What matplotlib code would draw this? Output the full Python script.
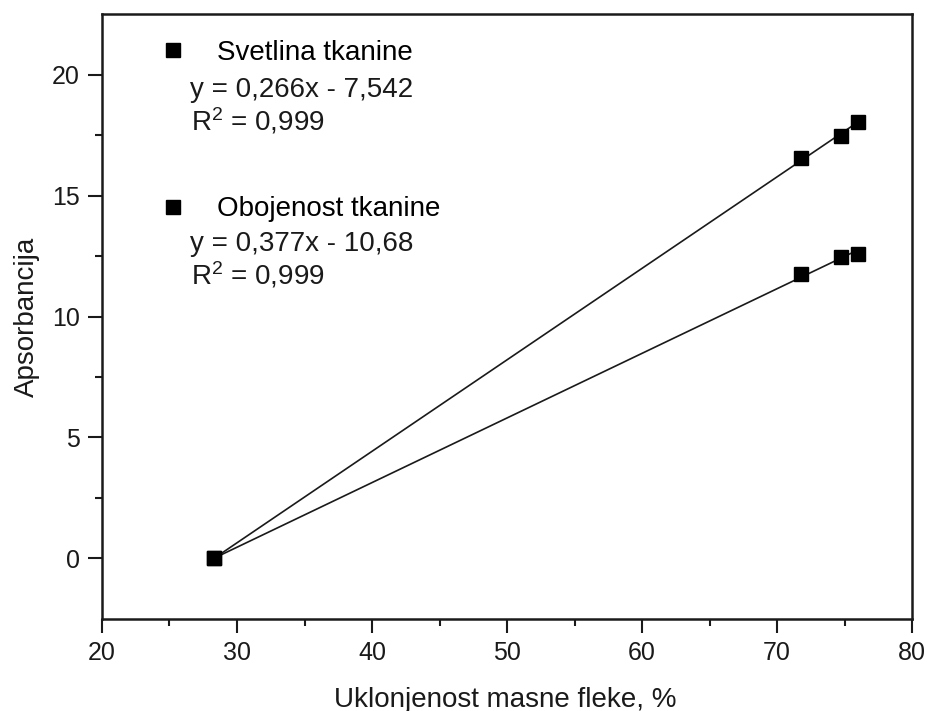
import matplotlib
matplotlib.use("Agg")
import matplotlib.pyplot as plt
import numpy as np
from matplotlib.lines import Line2D

plt.rcParams['font.family'] = ['Liberation Sans', 'DejaVu Sans']
plt.rcParams['mathtext.fontset'] = 'custom'
plt.rcParams['mathtext.rm'] = 'Liberation Sans'
plt.rcParams['mathtext.it'] = 'Liberation Sans:italic'

# Data
x_vals = [28.3, 71.8, 74.7, 76.0]
svetlina = [0.0, 11.75, 12.45, 12.6]
obojenost = [0.0, 16.55, 17.45, 18.05]
series_names = ["Svetlina tkanine", "Obojenost tkanine"]
equations = ["y = 0,266x - 7,542", "y = 0,377x - 10,68"]
r2_texts = ["R$^2$ = 0,999", "R$^2$ = 0,999"]
x_label = "Uklonjenost masne fleke, %"
y_label = "Apsorbancija"
x_ticks = [20, 30, 40, 50, 60, 70, 80]
y_ticks = [0, 5, 10, 15, 20]

FS = 20
fig = plt.figure(figsize=(9.27, 7.11), dpi=100)
ax = fig.add_axes([0.110, 0.1294, 0.874, 0.8509])

dark = "#1a1a1a"
for ys in (svetlina, obojenost):
    xs = np.array(x_vals)
    coef = np.polyfit(xs, ys, 1)
    xl = np.array([xs.min(), xs.max()])
    ax.plot(xl, np.polyval(coef, xl), color=dark, lw=1.2, zorder=2)
    ax.plot(xs, ys, 's', color="black", markersize=10.5, zorder=3)

ax.set_xlim(20, 80)
ax.set_ylim(-2.5, 22.5)
ax.set_xticks(x_ticks)
ax.set_yticks(y_ticks)
ax.set_xticks(np.arange(25, 80, 10), minor=True)
ax.set_yticks(np.arange(2.5, 22.5, 5), minor=True)
ax.tick_params(which='major', direction='out', length=10, width=1.5, labelsize=18, colors=dark, pad=6)
ax.tick_params(which='minor', direction='out', length=5, width=1.5, colors=dark)
for s in ax.spines.values():
    s.set_linewidth(1.8)
    s.set_color(dark)

ax.set_xlabel(x_label, fontsize=FS, color=dark, va='top')
ax.set_ylabel(y_label, fontsize=FS, color=dark)
ax.xaxis.set_label_coords(0.4975, -0.112)
ax.yaxis.set_label_coords(-0.0765, 0.5)

handles = [Line2D([], [], marker='s', color='black', linestyle='none', markersize=10.5)
           for _ in series_names]
leg = ax.legend(handles, series_names, loc='upper left', bbox_to_anchor=(0.0704, 0.957),
                frameon=False, fontsize=FS, labelspacing=4.69, handletextpad=1.09,
                handlelength=1.0, borderaxespad=0, borderpad=0)

# equation text (pixel positions of baselines)
baselines = [(97, 130), (251, 284)]
for (ye, yr), eq, r2 in zip(baselines, equations, r2_texts):
    ax.text(190, 711 - ye, eq, transform=None, fontsize=FS, va='baseline', ha='left', color=dark)
    ax.text(191, 711 - yr, r2, transform=None, fontsize=FS, va='baseline', ha='left', color=dark)

fig.savefig("out.png", dpi=100)
